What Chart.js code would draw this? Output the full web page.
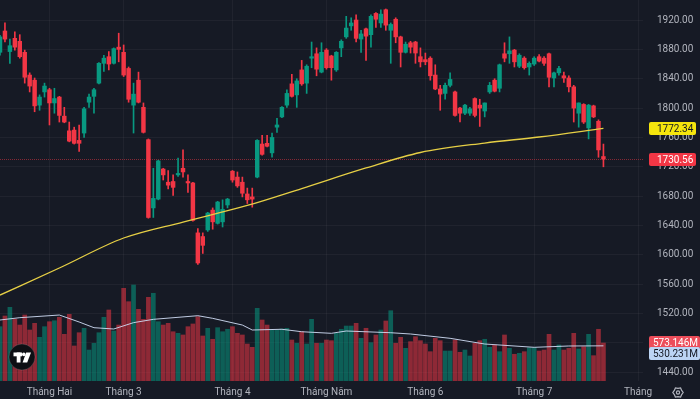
<!DOCTYPE html>
<html><head><meta charset="utf-8">
<script src="https://cdn.jsdelivr.net/npm/chart.js@4"></script>
<style>html,body{margin:0;padding:0;background:#161a25;overflow:hidden}canvas{display:block}</style>
</head><body><canvas id="c" width="700" height="399"></canvas>
<script>
// ---- data ----
const opens = [1876,1905,1877,1895,1891,1876,1845,1838,1804,1822,
1825,1807,1815,1789,1769,1770,1756,1766,1808,1816,
1834,1861,1870,1861,1883,1876,1854,1804,1838,1801,
1757,1664,1676,1717,1699,1700,1709,1718,1700,1698,
1630,1625,1634,1661,1643,1645,1668,1714,1706,1699,
1683,1679,1706,1751,1752,1739,1774,1788,1804,1833,
1818,1852,1834,1868,1874,1849,1879,1871,1852,1882,
1897,1912,1920,1894,1908,1900,1929,1916,1934,1906,
1921,1897,1876,1889,1890,1870,1866,1868,1845,1826,
1820,1831,1822,1800,1793,1793,1813,1804,1796,1822,
1838,1827,1874,1874,1879,1857,1868,1856,1860,1870,
1868,1874,1841,1848,1844,1841,1829,1793,1805,1773,
1803,1782,1734];
const highs = [1899,1916,1894,1904,1900,1879,1848,1841,1818,1834,
1827,1827,1816,1801,1781,1774,1777,1801,1819,1827,
1862,1872,1877,1882,1902,1886,1856,1834,1849,1807,
1758,1718,1729,1718,1715,1709,1732,1743,1709,1699,
1636,1630,1658,1664,1673,1675,1677,1715,1713,1706,
1691,1691,1757,1763,1763,1766,1786,1802,1825,1846,
1840,1865,1859,1890,1882,1889,1881,1872,1877,1893,
1925,1923,1927,1906,1909,1927,1930,1934,1935,1916,
1923,1898,1890,1891,1891,1882,1875,1870,1859,1831,
1834,1848,1823,1801,1805,1801,1814,1812,1807,1835,
1840,1860,1889,1897,1880,1874,1870,1863,1870,1873,
1870,1875,1849,1857,1849,1844,1831,1807,1806,1805,
1804,1784,1751];
const lows = [1872,1890,1861,1879,1868,1834,1822,1795,1797,1815,
1777,1793,1781,1780,1754,1751,1741,1760,1801,1793,
1833,1850,1852,1860,1863,1843,1808,1766,1807,1766,
1650,1651,1675,1702,1690,1681,1707,1706,1685,1646,
1587,1602,1632,1635,1642,1638,1664,1699,1692,1679,
1670,1665,1705,1736,1747,1733,1767,1787,1801,1815,
1801,1831,1820,1855,1844,1848,1853,1838,1850,1870,
1895,1906,1890,1876,1865,1883,1910,1910,1906,1861,
1889,1856,1875,1875,1861,1856,1859,1838,1825,1797,
1812,1829,1789,1781,1791,1790,1788,1775,1788,1820,
1822,1822,1863,1861,1856,1855,1853,1845,1858,1863,
1858,1829,1829,1845,1835,1822,1781,1774,1779,1758,
1787,1733,1720];
const closes = [1897,1894,1885,1883,1870,1842,1830,1803,1815,1830,
1807,1813,1790,1781,1755,1752,1752,1799,1815,1825,
1861,1868,1860,1881,1880,1845,1812,1819,1808,1767,
1651,1677,1728,1709,1695,1692,1711,1713,1698,1647,
1589,1613,1657,1645,1672,1662,1676,1702,1694,1684,
1675,1676,1756,1737,1748,1760,1777,1801,1820,1816,
1837,1833,1857,1870,1853,1876,1855,1855,1876,1891,
1909,1916,1895,1901,1898,1925,1921,1928,1913,1914,
1897,1876,1887,1883,1875,1863,1863,1844,1826,1819,
1831,1839,1790,1793,1804,1799,1790,1800,1807,1831,
1823,1859,1868,1878,1863,1872,1855,1861,1868,1864,
1861,1842,1848,1854,1841,1829,1800,1807,1781,1804,
1788,1743,1730.56];
// volume in millions
const volumes = [819,980,1111,930,844,995,769,870,659,819,
894,909,961,704,1006,528,728,795,467,569,
728,961,1071,754,844,1398,1196,1448,1081,930,
1262,1323,894,844,870,743,719,694,819,860,
970,679,795,629,804,743,780,819,719,694,
558,508,1096,920,844,769,769,784,795,618,
569,743,558,930,569,569,618,608,719,780,
829,829,870,644,795,578,694,769,905,1060,
569,659,493,593,668,608,558,442,644,608,
452,452,618,433,467,377,569,608,629,508,
543,442,694,493,403,418,442,502,502,452,
467,704,467,543,467,493,719,483,517,704,
382,780,573.146];
// moving average readings (bar index -> value)
const maIdx  = [0,12,25,37,50,61,74,85,98,109,122];
const maVals = [1545.3,1582.1,1623.0,1644.8,1667.3,1690.4,1718.4,1739.5,1752.4,1760.6,1772.34];
const volMaIdx  = [0,4,12,16,19,23,27,31,40,43,49,51,57,61,67,70,79,83,91,98,108,115,122];
const volMaVals = [920,955,995,890,804,784,880,930,985,945,844,769,780,743,719,754,728,709,644,558,508,528,530.231];
// x categories (trading-day slots, including empty future slots)
const slotCount = 131;
const categories = Array.from({length: slotCount}, (_, i) => String(i));
const monthIdx   = [10,25,47,66,86,108,129];
const monthNames = ['Tháng Hai','Tháng 3','Tháng 4','Tháng Năm','Tháng 6','Tháng 7','Tháng'];
const priceTicks = [1440,1480,1520,1560,1600,1640,1680,1720,1760,1800,1840,1880,1920];

// ---- build ----
const UP = '#089981', DOWN = '#f23645';
const n = closes.length;
const isUp = closes.map((c,i)=> c >= opens[i]);
const candleColor = isUp.map(u => u ? UP : DOWN);
const volColor = isUp.map(u => u ? 'rgba(8,153,129,0.55)' : 'rgba(242,54,69,0.55)');
const bodies = opens.map((o,i)=>[o, closes[i]]);
const wicks = lows.map((l,i)=>[l, highs[i]]);
const maData = new Array(n).fill(null); maIdx.forEach((k,j)=> maData[k] = maVals[j]);
const volMaData = new Array(n).fill(null); volMaIdx.forEach((k,j)=> volMaData[k] = volMaVals[j]);
const FONT = 'Roboto, "Noto Sans", sans-serif';

function box(ctx, x, yc, w, text, bg, fg, tx){
  const h = 13;
  ctx.fillStyle = bg;
  ctx.beginPath();
  if (ctx.roundRect) ctx.roundRect(x, Math.round(yc - h/2), w, h, 2); else ctx.rect(x, Math.round(yc-h/2), w, h);
  ctx.fill();
  ctx.fillStyle = fg;
  ctx.font = '10px ' + FONT;
  ctx.textAlign = 'left';
  ctx.textBaseline = 'middle';
  ctx.fillText(text, x + tx, Math.round(yc - h/2) + h/2 + 0.5);
}

const overlay = {
  id: 'overlay',
  beforeDatasetsDraw(chart){
    const {ctx, chartArea:a, scales:{y}} = chart;
    const py = Math.round(y.getPixelForValue(closes[n-1])) + 0.5;
    ctx.save();
    ctx.strokeStyle = 'rgba(242,54,69,0.5)';
    ctx.setLineDash([1,1]);
    ctx.lineWidth = 1;
    ctx.beginPath(); ctx.moveTo(a.left, py); ctx.lineTo(a.right, py); ctx.stroke();
    ctx.restore();
  },
  afterDraw(chart){
    const {ctx, chartArea:a, scales:{y, yVol}} = chart;
    ctx.save();
    const bx = a.right + 6;
    box(ctx, bx, y.getPixelForValue(maVals[maVals.length-1]), 47, maVals[maVals.length-1].toFixed(2), '#f5e50d', '#131722', 8);
    box(ctx, bx, y.getPixelForValue(closes[n-1]), 47, closes[n-1].toFixed(2), '#f23645', '#ffffff', 8);
    const v1 = yVol.getPixelForValue(volumes[n-1]);
    box(ctx, bx, v1, 51, volumes[n-1].toFixed(3) + 'M', '#ec4d5a', '#ffffff', 4);
    const v2 = Math.max(yVol.getPixelForValue(volMaVals[volMaVals.length-1]), v1 + 11);
    box(ctx, bx, v2, 51, volMaVals[volMaVals.length-1].toFixed(3) + 'M', '#bcd4f4', '#131722', 4);

    // TradingView logo
    const cx = 22, cy = 357;
    ctx.beginPath(); ctx.arc(cx, cy, 13, 0, Math.PI*2);
    ctx.fillStyle = '#0d0f14'; ctx.fill();
    ctx.strokeStyle = 'rgba(255,255,255,0.15)'; ctx.lineWidth = 1; ctx.stroke();
    ctx.fillStyle = '#ffffff';
    ctx.fillRect(cx-8.5, cy-4.5, 8.5, 3.8);
    ctx.fillRect(cx-5.3, cy-4.5, 3.8, 10);
    ctx.beginPath(); ctx.arc(cx+1.8, cy-2.6, 1.8, 0, Math.PI*2); ctx.fill();
    ctx.beginPath();
    ctx.moveTo(cx+4.2, cy-4.5); ctx.lineTo(cx+9, cy-4.5); ctx.lineTo(cx+5.2, cy+5.5); ctx.lineTo(cx+0.6, cy+5.5);
    ctx.closePath(); ctx.fill();

    // gear icon
    const gx = 678, gy = 392.5;
    ctx.strokeStyle = '#b2b5be'; ctx.lineWidth = 1.2;
    ctx.beginPath();
    for (let k = 0; k < 12; k++){
      const ang = k * Math.PI / 6;
      const r = (k % 2 === 0) ? 5.2 : 4.2;
      const px = gx + r*Math.cos(ang), pyy = gy + r*Math.sin(ang);
      if (k === 0) ctx.moveTo(px, pyy); else ctx.lineTo(px, pyy);
    }
    ctx.closePath(); ctx.stroke();
    ctx.beginPath(); ctx.arc(gx, gy, 1.6, 0, Math.PI*2); ctx.stroke();
    ctx.restore();
  }
};

new Chart(document.getElementById('c').getContext('2d'), {
  type: 'bar',
  data: {
    labels: categories,
    datasets: [
      {type:'line', data: maData, yAxisID:'y', borderColor:'#e6cf45', borderWidth:1.3, pointRadius:0, spanGaps:true, cubicInterpolationMode:'monotone', order:1},
      {type:'line', data: volMaData, yAxisID:'yVol', borderColor:'rgba(210,222,246,0.9)', borderWidth:1, pointRadius:0, spanGaps:true, tension:0, order:2},
      {data: bodies, yAxisID:'y', backgroundColor: candleColor, barThickness:3.8, grouped:false, minBarLength:1, borderWidth:0, order:3},
      {data: wicks, yAxisID:'y', backgroundColor: candleColor, barThickness:1, grouped:false, borderWidth:0, order:4},
      {data: volumes, yAxisID:'yVol', backgroundColor: volColor, barThickness:4, grouped:false, borderWidth:0, order:5}
    ]
  },
  options: {
    responsive:false, animation:false, events:[],
    layout:{padding:0},
    plugins:{legend:{display:false}, tooltip:{enabled:false}},
    scales:{
      x:{
        offset:false,
        grid:{offset:false, drawTicks:false, color:(c)=> monthIdx.includes(c.index) ? 'rgba(255,255,255,0.045)' : 'rgba(0,0,0,0)'},
        border:{display:false},
        ticks:{autoSkip:false, maxRotation:0, minRotation:0, padding:5, color:'#b2b5be', font:{family:FONT, size:10},
          callback:(v,i)=>{ const k = monthIdx.indexOf(i); return k >= 0 ? monthNames[k] : ''; }},
        afterFit:(s)=>{ s.height = 18; s.paddingLeft = 0; s.paddingRight = 0; }
      },
      y:{
        position:'right', min:1428.2, max:1947.25,
        grid:{drawTicks:false, color:'rgba(255,255,255,0.045)'},
        border:{display:false},
        ticks:{padding:14, color:'#b2b5be', font:{family:FONT, size:10}, callback:(v)=>Number(v).toFixed(2)},
        afterBuildTicks:(s)=>{ s.ticks = priceTicks.map(v=>({value:v})); },
        afterFit:(s)=>{ s.width = 57; s.paddingTop = 0; s.paddingBottom = 0; }
      },
      yVol:{display:false, min:0, max:5746}
    }
  },
  plugins:[overlay]
});
</script></body></html>
